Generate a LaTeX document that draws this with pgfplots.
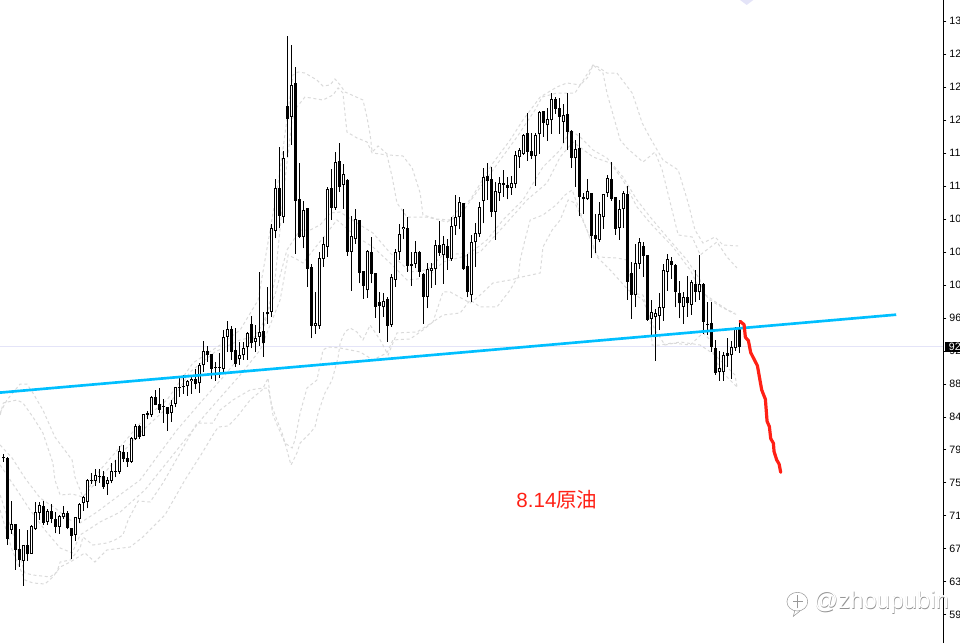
\documentclass[border=0pt]{standalone}
\usepackage{fontspec}
\usepackage{pgfplots}
\usepackage{pgfplotstable}
\pgfplotsset{compat=1.18}
\setmainfont{Liberation Sans}
\newfontfamily\cjk{Noto Sans CJK SC}
\definecolor{trend}{HTML}{00BFFF}
\definecolor{redline}{HTML}{FF2015}
\definecolor{lav}{HTML}{E4E4F8}
\definecolor{band}{HTML}{DADADA}
\pgfplotstableread{
i o c h l
2 69.63 70.29 73.16 69.09
5 65.77 67.68 67.68 62.61
7 66.64 70.08 70.17 66.60
8 69.67 71.79 73.03 69.59
9 71.75 72.66 73.07 70.83
11 70.58 71.91 72.24 70.25
14 70.00 71.33 71.45 69.13
15 71.16 71.66 72.58 71.00
18 69.00 71.21 71.25 68.26
19 71.00 72.83 72.91 70.42
20 72.99 73.70 73.86 71.99
21 73.12 75.77 75.90 72.29
23 75.73 76.40 77.14 75.11
26 75.36 75.77 76.23 73.95
27 75.73 76.90 77.89 75.40
29 76.85 79.39 80.09 76.56
32 78.10 81.05 81.21 77.97
33 80.97 82.54 82.79 80.80
35 81.34 84.00 84.08 81.26
37 83.91 86.10 86.24 83.71
42 84.20 85.12 85.78 83.08
43 85.33 87.36 87.44 84.87
46 87.49 88.11 88.32 86.28
47 88.11 88.36 88.77 86.53
49 87.86 90.10 90.43 86.70
50 90.10 91.85 93.09 89.31
55 89.65 93.67 94.50 89.11
56 93.67 94.59 95.58 91.80
59 90.85 91.35 93.05 90.14
60 91.35 92.22 93.05 90.77
61 92.43 94.09 94.30 90.77
63 93.05 93.47 95.13 91.81
64 93.68 94.22 101.73 92.51
67 96.79 107.17 107.71 96.17
68 106.84 112.16 113.32 105.93
70 108.63 115.89 116.81 107.80
72 121.09 124.99 130.02 117.56
75 106.14 109.42 110.54 104.68
78 95.05 95.34 99.24 94.01
79 95.05 103.44 104.23 94.63
80 103.39 105.18 106.05 102.40
81 104.89 112.03 112.28 103.64
83 109.75 115.40 116.68 109.46
85 112.61 113.90 115.15 109.62
87 104.27 106.18 108.71 99.37
88 105.80 108.29 109.54 105.22
91 99.45 104.35 104.47 98.54
95 97.33 98.08 99.08 96.17
97 95.17 101.07 101.48 94.92
98 100.78 104.18 104.60 99.91
99 104.27 106.43 107.67 103.23
100 107.05 107.30 109.54 105.80
103 102.69 104.18 105.60 102.19
106 98.66 102.07 102.81 97.21
107 101.82 102.19 102.81 99.78
108 102.07 105.06 105.72 100.11
110 103.81 105.18 106.22 100.24
112 103.39 107.42 108.63 103.15
113 107.42 108.54 111.29 106.34
114 108.54 110.41 111.04 107.05
117 98.83 105.43 106.35 98.04
118 105.43 106.55 107.88 102.40
119 106.43 109.79 110.46 106.06
120 110.62 113.53 114.65 107.80
123 109.25 111.79 112.99 105.72
124 111.62 112.78 113.61 110.62
127 112.24 112.78 113.70 111.33
128 112.66 116.27 116.77 112.16
129 116.02 116.94 117.15 114.74
130 116.40 118.81 118.93 116.31
133 116.15 118.76 119.10 112.45
134 118.89 121.63 121.84 116.44
136 120.01 120.76 122.13 118.06
137 120.63 123.25 123.99 118.93
140 120.47 121.30 122.63 117.85
143 115.90 117.06 118.18 112.37
146 110.87 111.79 113.28 110.71
149 105.77 108.92 110.42 105.43
150 108.55 111.41 111.41 107.09
151 111.54 113.45 113.82 111.12
154 107.26 109.63 110.71 105.72
155 109.54 111.54 111.83 107.18
158 98.83 102.82 105.23 97.34
159 102.78 105.43 105.97 102.11
162 95.92 96.71 98.24 93.88
163 96.08 96.58 97.16 90.68
164 96.29 97.41 99.07 94.50
165 97.20 101.98 102.73 95.67
166 101.77 103.39 103.97 99.41
170 97.41 98.66 99.28 95.25
172 97.66 100.44 100.73 96.37
174 99.20 100.19 103.85 98.24
179 89.31 89.73 91.93 88.15
180 89.23 91.39 91.81 88.19
182 91.35 92.35 93.18 88.40
183 92.22 94.71 94.84 91.93
}\upcandles
\pgfplotstableread{
i o c h l
0 78.70 78.50 79.00 78.10
1 78.56 68.51 78.64 67.72
3 70.33 67.14 70.33 64.60
4 67.22 65.85 69.71 64.98
6 67.72 66.55 69.59 65.77
10 72.58 70.46 73.20 70.21
12 71.95 71.00 72.83 70.42
13 70.96 70.00 71.79 69.17
16 71.66 69.84 71.91 69.67
17 69.84 68.84 69.84 65.93
22 75.82 75.69 76.69 75.32
24 76.31 76.23 77.14 75.48
25 76.27 74.99 76.94 74.69
28 76.94 76.85 78.31 76.15
30 79.30 78.47 80.13 78.10
31 78.51 78.10 79.35 77.48
34 82.54 81.17 82.63 80.92
36 84.12 83.96 84.41 83.37
38 86.10 85.20 87.03 85.12
39 85.28 84.54 87.28 84.12
40 85.04 84.95 85.87 82.96
41 84.95 84.08 84.95 81.96
44 87.36 87.24 88.69 86.20
45 87.49 87.36 88.90 86.53
48 88.36 87.82 89.69 87.11
51 91.85 91.43 92.51 90.56
52 91.47 89.69 91.47 88.36
53 89.85 89.73 90.48 88.19
54 89.90 89.77 91.68 88.52
57 94.63 91.81 95.01 90.77
58 92.01 90.31 94.71 89.94
62 95.21 92.85 96.25 92.22
65 94.34 92.93 96.71 91.18
66 96.71 96.54 99.91 95.26
69 112.16 108.75 117.31 107.17
71 122.42 120.84 131.14 116.02
73 125.24 110.62 127.23 103.98
74 110.79 106.09 115.27 105.93
76 109.67 102.15 109.67 99.91
77 102.36 95.05 102.73 93.47
82 112.16 109.75 114.57 108.21
84 115.52 112.37 117.81 111.74
86 113.20 104.27 113.28 103.77
89 108.21 101.65 108.21 100.32
90 101.82 100.03 101.82 98.41
92 104.23 101.53 106.05 100.32
93 101.57 97.41 101.57 96.04
94 97.95 97.54 99.20 94.17
96 98.37 95.05 98.58 93.05
101 107.17 102.52 108.63 101.77
102 102.69 102.52 104.18 100.03
104 104.23 101.77 104.39 101.15
105 101.44 98.66 101.57 95.26
109 105.10 104.14 108.09 103.73
111 104.93 103.44 105.89 101.98
115 110.33 102.15 110.33 101.98
116 102.48 99.29 103.98 98.58
121 113.66 113.12 115.28 110.71
122 113.28 109.25 114.86 108.55
125 112.78 112.62 114.45 111.12
126 112.53 112.20 113.61 110.79
131 119.01 116.73 121.55 115.60
132 116.77 116.19 119.10 115.77
135 121.75 120.34 121.84 118.60
138 123.25 122.09 123.50 121.42
139 122.13 121.09 123.37 118.93
141 121.42 119.22 123.99 116.94
142 119.26 115.98 119.43 114.74
144 117.14 111.04 119.01 108.76
145 111.04 110.87 111.62 108.96
147 111.54 106.26 111.62 103.52
148 106.30 105.89 108.96 104.15
152 113.28 110.87 115.44 110.62
153 111.04 107.14 111.12 106.35
156 111.45 100.53 112.45 98.25
157 101.57 98.91 102.94 95.88
160 104.97 103.77 105.52 101.16
161 103.85 95.75 103.85 95.67
167 103.06 102.64 103.64 100.86
168 102.60 99.28 102.73 97.33
169 99.07 97.83 100.61 95.96
171 98.58 97.83 101.23 96.17
173 100.19 99.28 101.98 98.04
175 100.24 95.54 100.32 94.01
176 95.25 95.13 97.95 93.88
177 95.34 92.43 98.04 91.81
178 92.22 89.19 93.26 88.90
181 91.60 91.31 93.47 89.94
184 94.71 92.43 95.75 91.68
}\downcandles
\begin{document}
\begin{tikzpicture}[x=1pt,y=1pt]
\useasboundingbox (0,0) rectangle (720,482.25);
\clip (0,0) rectangle (720,482.25);
\begin{axis}[
  at={(0,0)}, anchor=south west,
  scale only axis, width=707.25pt, height=482.25pt,
  xmin=-0.83, xmax=234.9, ymin=55.5, ymax=135.62,
  axis x line=none,
  axis y line=right,
  axis line style={-, black, line width=0.75pt},
  xtick=\empty,
  ytick={59,63.11,67.22,71.33,75.44,79.55,83.66,87.77,91.88,95.99,100.10,104.21,108.32,112.43,116.54,120.65,124.76,128.87,132.98},
  yticklabels={59,63,67,71,75,79,84,88,92,96,100,104,108,112,116,120,125,129,133},
  tick align=outside,
  major tick length=2.5pt,
  tick style={black, line width=0.75pt},
  y tick label style={font=\fontsize{8}{10}\selectfont, anchor=west, xshift=-1.2pt},
  clip mode=individual,
  every axis plot/.append style={forget plot},
]
% current price line
\addplot[lav, line width=0.75pt] coordinates {(-0.83,92.45) (234.9,92.45)};
% dashed bands
\pgfplotsset{bandline/.style={band, line width=0.75pt, dash pattern=on 2.25pt off 2pt, mark=none}}
\addplot[bandline] coordinates {(-0.8,84.16)(0.9,85.78)(4.2,87.77)(5.9,87.77)(7.4,86.65)(9.9,84.53)(12.9,81.17)(17.2,78.30)(17.9,76.19)(19.9,73.69)(24.2,77.06)(29.2,79.92)(34.9,83.29)(40.9,85.78)(47.4,90.39)(54.2,92.63)(59.2,94.50)(63.7,98.24)(66.7,106.96)(69.2,114.44)(72.4,126.27)(73.7,126.65)(75.4,126.52)(78.4,125.65)(79.9,124.90)(81.7,125.03)(82.9,125.78)(84.2,125.03)(85.4,124.16)(89.9,123.16)(90.9,121.04)(91.7,118.80)(92.2,116.68)(93.7,117.43)(96.2,116.31)(99.9,116.18)(102.2,114.69)(104.2,111.57)(104.9,108.83)(108.4,108.33)(111.7,108.21)(114.2,109.83)(116.7,110.70)(122.4,115.31)(126.7,118.18)(129.9,120.67)(134.2,123.53)(138.4,124.78)(140.9,125.28)(144.2,125.03)(147.4,127.52)(148.7,127.27)(150.9,126.52)(153.4,126.52)(157.2,124.03)(158.4,122.29)(159.7,120.29)(161.7,118.43)(164.9,115.68)(168.7,114.44)(171.2,110.33)(172.9,106.96)(174.9,105.34)(177.9,106.09)(179.9,105.09)(183.7,104.97)};
\addplot[bandline] coordinates {(-0.8,83.91)(0,85.41)(3.4,85.78)(4.9,85.41)(7.4,83.66)(9.9,81.67)(12.4,77.93)(12.9,75.81)(14.2,73.94)(17.2,74.07)(19.9,73.69)(24.2,76.06)(29.2,78.93)(34.9,82.04)(40.9,84.78)(46.7,89.27)(52.9,91.76)(59.2,93.26)(64.7,93.88)(67.9,100.73)(70.4,113.19)(72.2,120.67)(73.4,122.29)(75.4,123.53)(79.9,123.16)(82.4,123.78)(83.7,124.66)(84.9,124.03)(85.4,121.54)(85.9,119.17)(88.4,118.43)(90.9,117.93)(92.2,116.56)(95.9,116.31)(97.2,113.57)(98.4,110.33)(100.9,108.58)(105.9,108.58)(110.9,107.96)(114.2,108.83)(122.4,114.44)(124.2,115.68)(128.4,118.55)(132.9,121.91)(134.7,123.53)(138.4,124.03)(142.9,124.03)(144.2,125.03)(146.2,126.03)(147.4,127.52)(149.9,126.52)(150.9,124.03)(154.2,118.18)(155.9,117.18)(159.9,115.43)(162.9,116.68)(164.7,114.44)(168.7,106.34)(172.2,106.09)(174.2,103.85)(178.4,105.47)(180.9,103.60)(183.4,102.23)};
\addplot[bandline] coordinates {(-0.8,80.17)(2.2,78.55)(5.4,76.06)(9.2,73.57)(12.9,72.32)(16.7,70.83)(19.2,70.46)(23.4,71.82)(28.4,73.69)(34.2,75.81)(38.4,78.68)(43.4,82.04)(49.2,85.41)(55.4,88.89)(60.4,92.01)(64.7,95.12)(67.9,98.86)(70.9,104.47)(74.2,106.96)(76.7,106.96)(79.2,107.59)(81.7,109.08)(84.2,109.20)(88.4,107.83)(92.4,106.59)(96.7,104.10)(101.7,101.73)(105.9,101.98)(109.9,103.85)(116.7,104.10)(120.9,105.72)(124.9,108.21)(129.9,110.70)(134.9,114.81)(139.2,116.93)(141.7,119.42)(144.2,118.55)(147.4,116.93)(150.9,115.93)(154.9,113.57)(158.4,110.70)(161.7,108.58)(165.9,106.09)(170.9,103.22)(174.2,100.73)(174.9,99.11)(178.4,97.87)(182.2,96.62)(183.7,96.37)};
\addplot[bandline] coordinates {(-0.8,77.68)(2.9,74.94)(6.7,72.07)(10.4,69.58)(14.2,67.34)(17.2,66.72)(19.2,68.96)(24.2,70.58)(29.2,71.82)(35.4,74.57)(40.4,77.68)(45.4,80.80)(50.4,83.91)(59.2,88.89)(64.2,92.01)(69.2,98.24)(71.2,103.85)(73.7,103.22)(74.9,102.85)(80.9,106.59)(83.4,108.21)(88.4,106.09)(92.4,104.84)(96.7,102.85)(100.9,100.73)(105.9,100.98)(109.9,102.97)(119.2,104.22)(124.9,107.33)(130.9,110.70)(135.9,112.82)(139.2,116.06)(142.4,117.93)(147.4,116.06)(151.7,115.31)(154.9,113.19)(158.4,109.83)(161.7,107.83)(167.4,104.84)(171.7,101.98)(174.2,99.49)(176.7,98.24)(179.9,97.24)(182.9,96.62)};
\addplot[bandline] coordinates {(-0.8,73.94)(2.9,68.34)(5.4,64.22)(7.4,63.97)(11.7,63.73)(13.4,64.35)(14.2,65.59)(16.7,65.84)(19.2,67.34)(19.9,68.71)(22.4,67.71)(25.9,67.96)(27.9,68.34)(29.9,68.96)(31.2,70.83)(33.7,73.20)(36.7,73.07)(39.9,75.44)(44.2,79.18)(48.4,82.91)(52.4,82.91)(54.2,84.53)(57.4,85.78)(61.7,87.03)(64.9,87.27)(66.2,87.27)(67.2,84.91)(68.4,83.29)(69.7,81.67)(70.9,79.55)(71.9,77.68)(73.4,79.18)(74.2,80.42)(76.7,81.67)(77.9,82.41)(78.7,84.16)(80.4,86.65)(82.2,88.27)(83.7,91.14)(84.2,92.88)(85.4,94.25)(86.7,94.75)(88.4,94.25)(89.9,93.26)(91.7,95.12)(94.2,93.26)(96.2,91.39)(98.4,94.13)(103.4,94.25)(107.4,95.50)(109.9,99.24)(111.7,99.24)(116.7,97.87)(119.2,98.86)(122.4,100.36)(126.7,100.73)(128.7,100.98)(129.2,103.22)(130.4,105.72)(131.7,108.21)(134.9,108.83)(138.2,110.08)(140.4,111.32)(142.2,111.95)(144.2,109.20)(145.9,106.96)(147.2,105.34)(148.7,103.60)(153.4,103.47)(155.9,103.22)(157.4,99.11)(159.9,98.86)(161.7,95.75)(162.2,92.63)(164.2,92.63)(167.2,92.88)(171.7,92.63)(174.9,94.13)(176.7,93.26)(177.9,90.77)(180.4,88.89)(182.4,87.90)(183.4,87.40)};
\addplot[bandline] coordinates {(-0.8,72.07)(2.2,67.09)(5.4,63.35)(7.4,62.98)(10.4,62.85)(12.4,63.73)(14.2,64.97)(16.7,65.59)(20.4,66.72)(22.9,65.59)(25.9,67.09)(31.7,67.46)(34.9,68.71)(40.4,71.45)(45.4,75.81)(49.7,79.18)(52.4,81.42)(53.7,82.41)(56.2,82.54)(58.4,83.66)(61.7,85.78)(64.7,87.03)(66.2,88.52)(66.7,86.03)(67.4,83.91)(69.2,81.79)(70.4,80.42)(72.2,79.80)(72.9,80.80)(74.2,84.16)(75.9,87.27)(78.4,88.27)(79.9,92.01)(81.2,92.38)(84.2,92.26)(89.2,91.76)(92.4,90.77)(95.9,91.64)(97.4,93.26)(101.7,93.38)(104.9,94.50)(107.4,95.50)(109.9,96.37)(114.2,96.62)(116.7,98.24)(119.2,97.37)(123.4,97.37)(126.7,99.49)(128.4,100.98)(134.2,101.60)(134.9,104.84)(137.2,106.96)(139.2,108.21)(141.2,110.70)(142.9,110.33)(145.9,106.96)(148.4,103.60)(151.7,101.98)(156.2,99.49)(159.9,98.24)(162.9,94.50)(165.4,92.63)(169.2,93.01)(174.2,92.63)(177.9,91.39)(180.4,90.14)(182.9,88.89)(183.4,87.40)};
% wicks
\pgfplotsset{cbar/.style={draw=none, mark=none, error bars/.cd, y dir=plus, y explicit, error mark=none, error bar style={#1}}}
\addplot[cbar={black, line width=0.75pt}] table[x=i, y=l, y error plus expr=\thisrow{h}-\thisrow{l}] {\upcandles};
\addplot[cbar={black, line width=0.75pt}] table[x=i, y=l, y error plus expr=\thisrow{h}-\thisrow{l}] {\downcandles};
% bodies
\addplot[cbar={black, line width=2.25pt}] table[x=i, y=c, y error plus expr=\thisrow{o}-\thisrow{c}] {\downcandles};
\addplot[cbar={black, line width=2.25pt}] table[x=i, y=o, y error plus expr=\thisrow{c}-\thisrow{o}] {\upcandles};
\addplot[cbar={white, line width=0.75pt}] table[x=i, y expr=\thisrow{o}+0.12, y error plus expr={max(\thisrow{c}-\thisrow{o}-0.24,0)}] {\upcandles};
% trend line
\addplot[trend, line width=2pt] coordinates {(-0.83,86.7) (223.2,96.41)};
% drawn forecast
\addplot[redline, line width=2.4pt, line join=round, line cap=round] coordinates {(184.17,95.58)(185.17,95.17)(185.5,93.59)(186.25,93.18)(186.83,91.68)(188.5,90.06)(189.58,87.03)(190.5,85.87)(190.92,83.13)(191.5,82.46)(191.83,80.97)(192.5,80.39)(192.67,79.35)(193.33,78.31)(193.92,77.81)(194.33,76.77)};
\end{axis}
% current price tag
\fill[black] (708.75,218.25) rectangle (720,225.75);
\node[text=white, font=\fontsize{8}{10}\selectfont, anchor=west, inner sep=0pt] at (711.5,222) {92};
% faint mark at the top edge
\fill[lav] (555,482.25) -- (565,482.25) -- (560,478.5) -- cycle;
% label
\node[text=redline, font=\fontsize{15.4}{18}\selectfont] at (417.75,107.25) {8.14{\cjk 原油}};
% watermark
\node[text=gray!85, font=\fontsize{18}{20}\selectfont, anchor=west, inner sep=0pt] at (610.6,30.1) {@zhoupubin};
\node[text=white, font=\fontsize{18}{20}\selectfont, anchor=west, inner sep=0pt] at (610.2,30.4) {@zhoupubin};
\draw[gray!80, line width=0.4pt] (598,31) ellipse (7.8pt and 7pt);
\draw[gray!80, line width=0.4pt] (596,24) -- (595,20) -- (600,24);
\draw[gray!80, line width=0.4pt] (598,26) -- (598,36) (595,31) -- (602,31);
\end{tikzpicture}
\end{document}
